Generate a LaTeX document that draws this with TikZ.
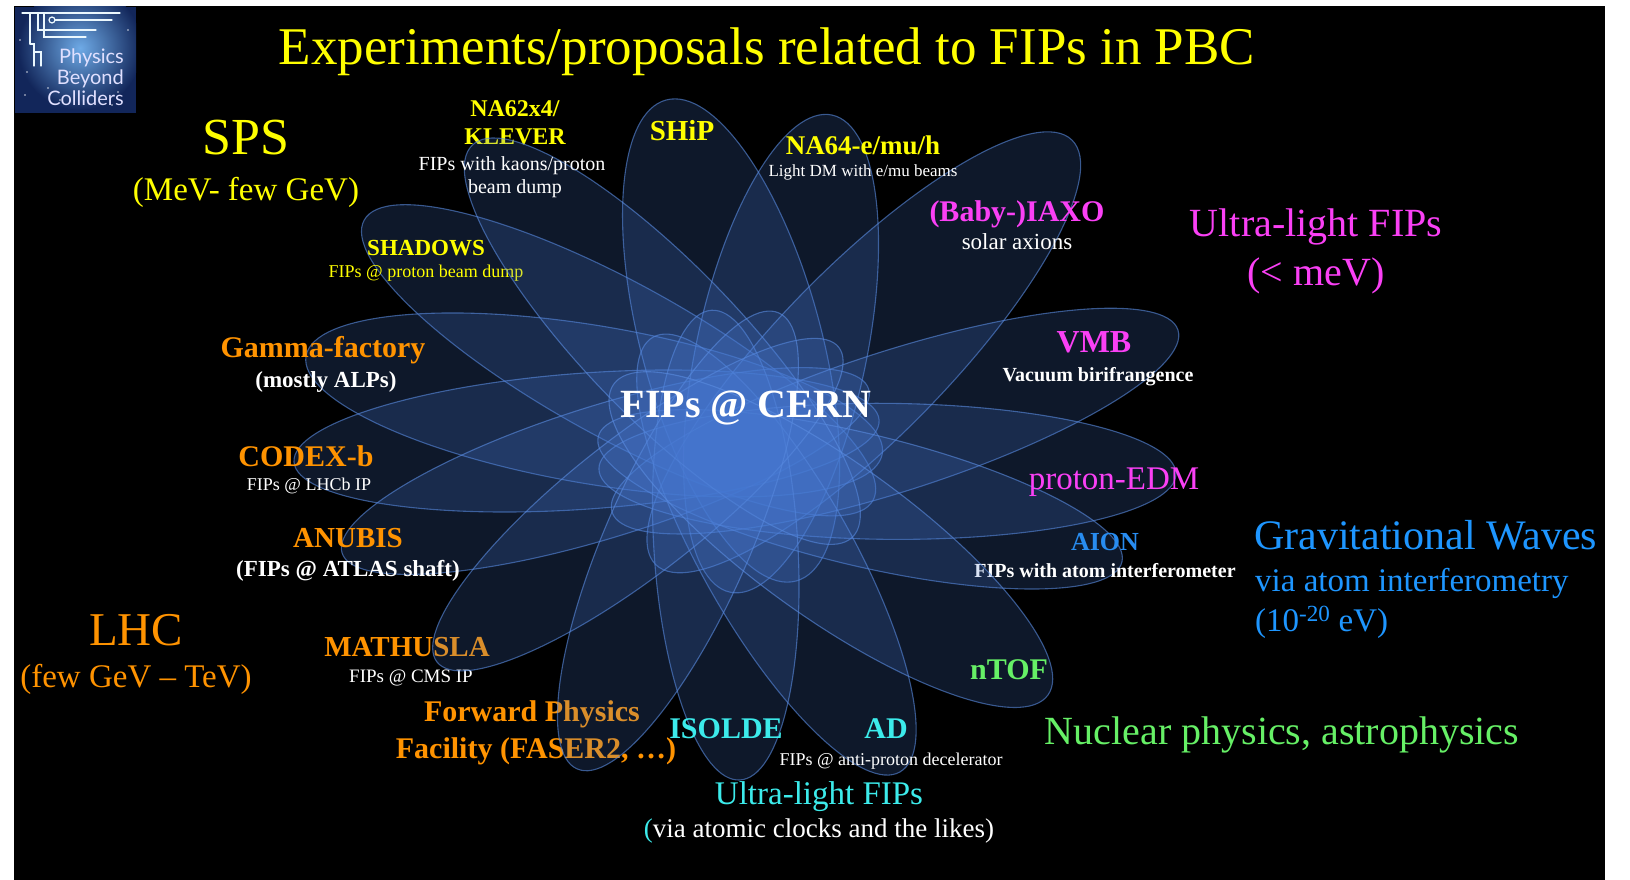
\documentclass[tikz,border=0pt]{standalone}
\usepackage{fontspec}
\setmainfont{Liberation Serif}
\newfontfamily\logofont{Lato}
\definecolor{pbcyellow}{RGB}{255,255,0}
\definecolor{pbcorange}{RGB}{255,147,0}
\definecolor{pbcmagenta}{RGB}{250,64,245}
\definecolor{pbcblue}{RGB}{30,150,255}
\definecolor{aionblue}{RGB}{40,140,240}
\definecolor{pbcgreen}{RGB}{102,240,102}
\definecolor{pbccyan}{RGB}{60,235,235}
\definecolor{petalblue}{RGB}{72,122,212}
\definecolor{petaledge}{RGB}{90,140,225}
\definecolor{logonavy}{RGB}{18,38,90}
\definecolor{logoglow}{RGB}{110,170,230}
% one petal: tip (#1,#2), half width #3.  Its axis runs from the tip to a
% point set \hubsh beside the flower centre (a slight pinwheel twist) and the
% petal reaches \petov beyond that point.
\newcommand\fippetal[3]{%
  \pgfmathsetmacro\qdx{#1-\hubx}%
  \pgfmathsetmacro\qdy{#2-\huby}%
  \pgfmathsetmacro\qlen{10*veclen(\qdx/10,\qdy/10)}%
  \pgfmathsetmacro\phx{\hubx-\hubsh*\qdy/\qlen}%
  \pgfmathsetmacro\phy{\huby+\hubsh*\qdx/\qlen}%
  \pgfmathsetmacro\pdx{#1-\phx}%
  \pgfmathsetmacro\pdy{#2-\phy}%
  \pgfmathsetmacro\plen{10*veclen(\pdx/10,\pdy/10)}%
  \pgfmathsetmacro\pang{atan2(-\pdy,\pdx)}%
  \pgfmathsetmacro\pa{(\plen+\petov)/2}%
  \pgfmathsetmacro\pux{\pdx/\plen}%
  \pgfmathsetmacro\puy{\pdy/\plen}%
  \pgfmathsetmacro\pcx{#1-\pa*\pux}%
  \pgfmathsetmacro\pcy{#2-\pa*\puy}%
  \path[petal, rotate around={\pang:(\pcx,\pcy)}]
    (\pcx,\pcy) ellipse [x radius=\pa, y radius=#3];}
\def\hubx{740}\def\huby{450}\def\petov{140}\def\hubsh{20}
\begin{document}
\begin{tikzpicture}[x=1pt,y=-1pt,
  txt/.style={inner sep=0pt, anchor=base},
  bf/.style={txt, font=\fontsize{#1}{#1}\selectfont\bfseries},
  rm/.style={txt, font=\fontsize{#1}{#1}\selectfont},
  petal/.style={fill=petalblue, fill opacity=0.2,
    draw=petaledge, draw opacity=0.6, line width=1.1pt},
  logoline/.style={draw=white!92!cyan, line width=1.2pt, line cap=round},
  logotext/.style={inner sep=0pt, anchor=base east, text=white!88!blue,
    font=\logofont\fontsize{20}{20}\selectfont},
]
\useasboundingbox (0,0) rectangle (1630,880);
\fill[white] (0,0) rectangle (1630,880);
\fill[black] (14,6) rectangle (1605,880);

% ---------- logo ----------
\fill[logonavy] (15,7) rectangle (136,113);
\begin{scope}
  \clip (15,7) rectangle (136,113);
  \shade[inner color=logoglow, outer color=logonavy] (80,48) circle (62);
  \foreach \sx/\sy in {25/95,60/100,118/92,128/30,20/40,100/60,70/72,48/88,112/105,27/72}
    \fill[white, opacity=0.8] (\sx,\sy) circle (0.9);
\end{scope}
\draw[logoline] (22,13) -- (120,13);
\draw[logoline] (30,13) -- (30,44);
\draw[logoline] (38,13) -- (38,30) -- (96,30);
\draw[logoline] (52,20) circle (3);
\draw[logoline] (55,20) -- (112,20);
\draw[logoline] (44,13) -- (44,37) -- (86,37);
\draw[logoline] (30,44) -- (34,44) -- (34,66);
\draw[logoline] (34,52) -- (41,52) -- (41,66);
\node[logotext] (logoa) at (124,64) {Physics};
\node[logotext] (logob) at (124,85) {Beyond};
\node[logotext] (logoc) at (124,106) {Colliders};

% ---------- lower layer of petals ----------
\fippetal{364}{220}{77}   % SHADOWS
\fippetal{306}{356}{79}   % Gamma-factory
\fippetal{294}{462}{68}   % CODEX-b
\fippetal{342}{553}{66}   % ANUBIS
\fippetal{666}{100}{90}   % SHiP
\fippetal{832}{115}{85}   % NA64
\fippetal{1072}{140}{85}  % IAXO
\fippetal{1178}{330}{70}  % VMB
\fippetal{1176}{474}{68}  % proton-EDM
\fippetal{1122}{562}{66}  % AION
\fippetal{900}{772}{75}   % AD
\fippetal{740}{780}{72}   % ISOLDE

% ---------- labels partly covered by the upper petals ----------
\node[bf=24, text=pbcyellow] (na62a) at (515,117) {NA62x4/};
\node[bf=24, text=pbcyellow] (na62b) at (515,145) {KLEVER};
\node[bf=23, text=pbcyellow] (shadows) at (426,255) {SHADOWS};
\node[rm=18, text=pbcyellow] (shadowsd) at (426,277) {FIPs @ proton beam dump};
\node[bf=29, text=pbcorange] (mathusla) at (407,656) {MATHUSLA};
\node[rm=19, text=white] (mathuslad) at (411,682) {FIPs @ CMS IP};
\node[bf=30, text=pbcorange] (fwd) at (532,721) {Forward Physics};
\node[bf=30, text=pbcorange] (fwdb) at (536,758) {Facility (FASER2, \dots)};
\node[bf=20, text=white] (aiond) at (1105,577) {FIPs with atom interferometer};

% ---------- upper layer of petals ----------
\fippetal{472}{145}{77}   % NA62
\fippetal{437}{662}{68}   % MATHUSLA
\fippetal{577}{769}{72}   % Forward Physics
\fippetal{1048}{695}{78}  % nTOF

% ---------- title and groups ----------
\node[rm=53, text=pbcyellow, anchor=base] (title) at (767,65)
  {Experiments/proposals related to FIPs in PBC};
\node[rm=52, text=pbcyellow] (sps) at (246,154) {SPS};
\node[rm=33, text=pbcyellow] (spsr) at (246,200) {(MeV- few GeV)};
\node[rm=47, text=pbcorange] (lhc) at (136,645) {LHC};
\node[rm=33, text=pbcorange] (lhcr) at (136,687) {(few GeV -- TeV)};
\node[rm=40, text=pbcmagenta] (ulf) at (1316,236) {Ultra-light FIPs};
\node[rm=40, text=pbcmagenta] (ulfr) at (1316,285) {(< meV)};
\node[rm=42, text=pbcblue, anchor=base west] (gw) at (1254,549) {Gravitational Waves};
\node[rm=33, text=pbcblue, anchor=base west] (gwa) at (1255,591) {via atom interferometry};
\node[rm=33, text=pbcblue, anchor=base west] (gwb) at (1255,631) {(10\textsuperscript{-20} eV)};
\node[rm=40, text=pbcgreen] (nuc) at (1282,744) {Nuclear physics, astrophysics};
\node[rm=33, text=pbccyan] (ulc) at (819,804) {Ultra-light FIPs};
\node[rm=27, text=white] (ulcd) at (819,837) {{\color{pbccyan}(}via atomic clocks and the likes)};

% ---------- experiments ----------
\node[bf=40, text=white] (cern) at (746,417) {FIPs @ CERN};
\node[rm=20, text=white] (na62c) at (512,170) {FIPs with kaons/proton};
\node[rm=20, text=white] (na62d) at (515,193) {beam dump};
\node[bf=29, text=pbcyellow] (ship) at (682,140) {SHiP};
\node[bf=27, text=pbcyellow] (na64) at (863,154) {NA64-e/mu/h};
\node[rm=17, text=white] (na64d) at (863,176) {Light DM with e/mu beams};
\node[bf=30, text=pbcmagenta] (iaxo) at (1017,221) {(Baby-)IAXO};
\node[rm=23, text=white] (iaxod) at (1017,249) {solar axions};
\node[bf=30, text=pbcorange] (gamma) at (323,357) {Gamma-factory};
\node[bf=23, text=white] (gammad) at (326,387) {(mostly ALPs)};
\node[bf=32, text=pbcmagenta] (vmb) at (1094,352) {VMB};
\node[bf=20, text=white] (vmbd) at (1098,381) {Vacuum birifrangence};
\node[bf=30, text=pbcorange] (codex) at (306,466) {CODEX-b};
\node[rm=18, text=white] (codexd) at (309,490) {FIPs @ LHCb IP};
\node[rm=33, text=pbcmagenta] (pedm) at (1114,489) {proton-EDM};
\node[bf=29, text=pbcorange] (anubis) at (348,547) {ANUBIS};
\node[bf=23, text=white] (anubisd) at (348,576) {(FIPs @ ATLAS shaft)};
\node[bf=26, text=aionblue] (aion) at (1105,550) {AION};
\node[bf=30, text=pbcgreen] (ntof) at (1009,679) {nTOF};
\node[bf=30, text=pbccyan] (isolde) at (726,738) {ISOLDE};
\node[bf=30, text=pbccyan] (ad) at (886,738) {AD};
\node[rm=18, text=white] (add) at (891,765) {FIPs @ anti-proton decelerator};
\end{tikzpicture}
\end{document}
